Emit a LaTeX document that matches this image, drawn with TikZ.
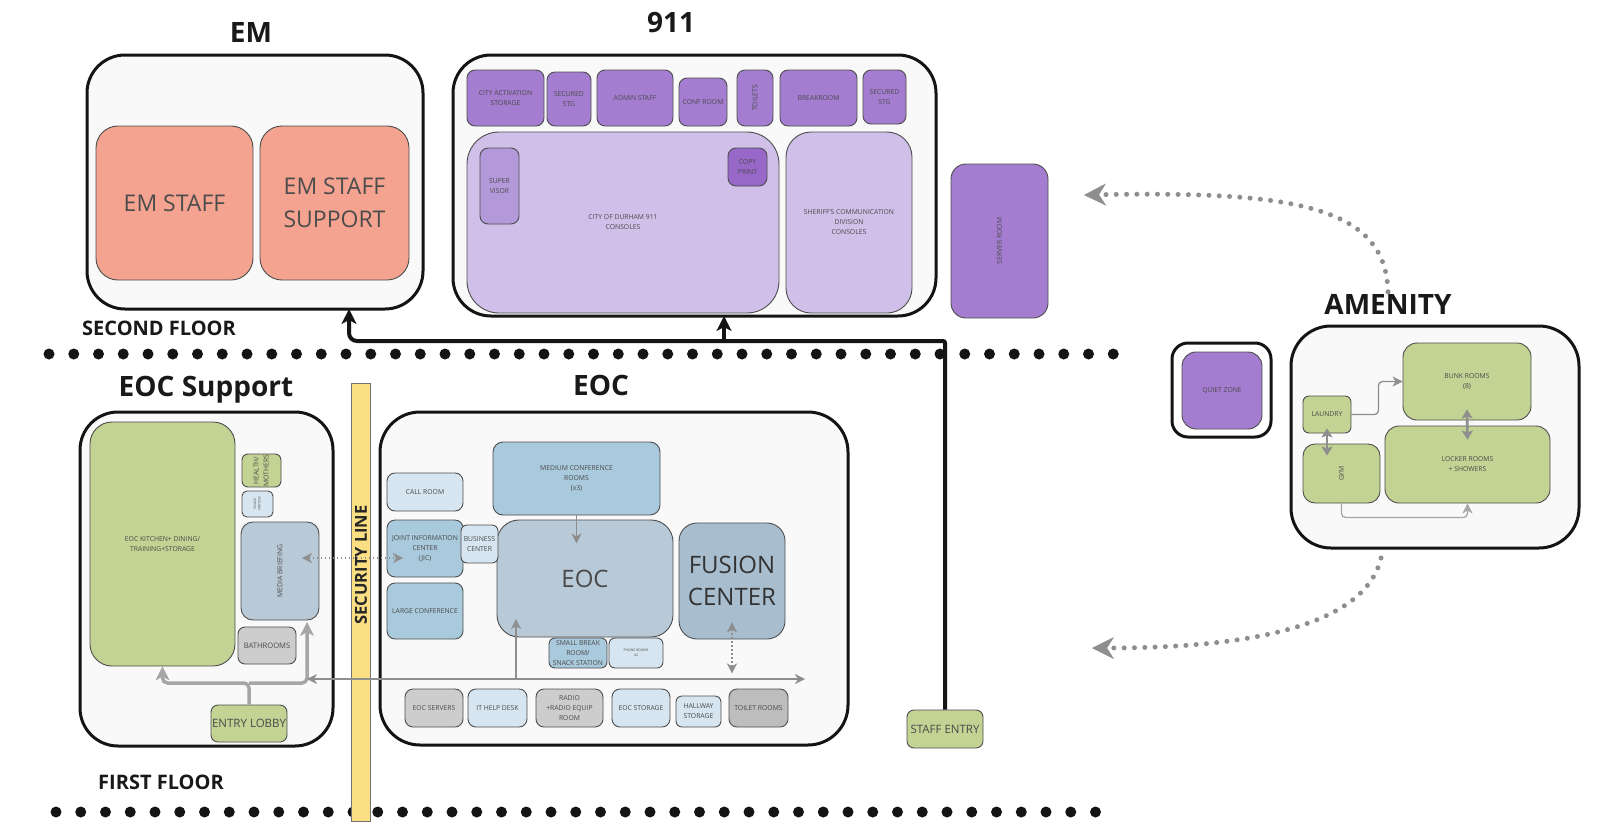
\documentclass[tikz,border=0pt]{standalone}
\usepackage{fontspec}
\usepackage{graphicx}
\setmainfont{Open Sans}
\usetikzlibrary{arrows.meta}

\definecolor{zonebg}{HTML}{F9F9F9}
\definecolor{roomedge}{HTML}{4D4D4D}
\definecolor{txt}{HTML}{4A4A4A}
\definecolor{salmon}{HTML}{F3A390}
\definecolor{purpA}{HTML}{A47DD0}
\definecolor{purpL}{HTML}{D0C0E9}
\definecolor{purpS}{HTML}{B399DA}
\definecolor{purpD}{HTML}{9868C8}
\definecolor{grn}{HTML}{C3D393}
\definecolor{bluM}{HTML}{A9C9DC}
\definecolor{bluL}{HTML}{D6E5EF}
\definecolor{bluG}{HTML}{B8CAD8}
\definecolor{bluF}{HTML}{A8BECF}
\definecolor{gryR}{HTML}{CDCDCD}
\definecolor{gryT}{HTML}{BDBDBD}
\definecolor{yel}{HTML}{FBE083}
\definecolor{arrowgray}{HTML}{8E8E8E}
\definecolor{pathgray}{HTML}{A6A6A6}

% a room given by its corners: name, x1, y1, x2, y2, options, text
\newcommand\room[7]{\node[room,#6,minimum width={#4-#2},minimum height={#5-#3}] (#1) at ({(#2+#4)/2},{(#3+#5)/2}) {#7};}
\newcommand\vtxt[1]{\rotatebox{90}{\begin{tabular}{@{}c@{}}#1\end{tabular}}}

\begin{document}
\begin{tikzpicture}[x=1pt,y=-1pt,
  zone/.style={draw=black!92,line width=3pt,fill=zonebg,rounded corners=38pt},
  room/.style={draw=roomedge,line width=0.9pt,rounded corners=8pt,text=txt,inner sep=0pt,align=center,font=\fontsize{6.8}{10}\selectfont},
  bigtxt/.style={font=\fontsize{23}{33}\selectfont,text=black!70},
  title/.style={font=\fontsize{28}{32}\bfseries\selectfont,text=black!90,inner sep=2pt},
  floorlbl/.style={font=\fontsize{20}{24}\bfseries\selectfont,text=black!90,anchor=west,inner sep=0pt},
  floordots/.style={line width=11pt,draw=black!92,line cap=round,dash pattern=on 0pt off 24.75pt},
  blk/.style={line width=4pt,draw=black!92,-{Stealth[length=15pt,width=15pt,inset=4pt,line width=0.5pt]}},
  gthick/.style={line width=3.5pt,draw=pathgray,rounded corners=5pt,-{Stealth[length=14pt,width=14pt,inset=4pt,line width=0.5pt]}},
  gthin/.style={line width=1.3pt,draw=arrowgray,rounded corners=4pt},
  gtip/.style={-{Stealth[length=10pt,width=10pt,inset=3pt,line width=0.3pt]}},
  gboth/.style={{Stealth[length=10pt,width=10pt,inset=3pt,line width=0.3pt]}-{Stealth[length=10pt,width=10pt,inset=3pt,line width=0.3pt]}},
  gdot/.style={line width=1.4pt,draw=arrowgray,dash pattern=on 1.4pt off 2.6pt},
  bigdot/.style={line width=5pt,draw=arrowgray,line cap=round,dash pattern=on 0pt off 10.3pt,
    -{Stealth[length=22pt,width=22pt,inset=7pt,line width=0.5pt]}}]

\useasboundingbox[fill=white] (0,0) rectangle (1606,825);

% ---------- floor separators ----------
\draw[floordots] (49,354) -- (1116,354);
\draw[floordots] (56,812) -- (1098,812);
\node[floorlbl] (secondfl) at (82,328) {SECOND FLOOR};
\node[floorlbl] (firstfl) at (98,782) {FIRST FLOOR};

% ---------- EM ----------
\node[title] (emT) at (251,33) {EM};
\room{em}{87}{55}{423}{309}{zone}{}
\room{emstaff}{96}{126}{253}{280}{fill=salmon,rounded corners=22pt,bigtxt}{EM STAFF}
\room{emsupport}{260}{126}{409}{280}{fill=salmon,rounded corners=22pt,bigtxt}{EM STAFF\\SUPPORT}

% ---------- 911 ----------
\node[title] (dispT) at (671,23) {911};
\room{disp}{453}{55}{936}{316}{zone}{}
\room{cityact}{467}{70}{544}{126}{fill=purpA}{CITY ACTIVATION\\STORAGE}
\room{secA}{547}{72}{591}{126}{fill=purpA}{SECURED\\STG}
\room{admin}{597}{70}{673}{126}{fill=purpA}{ADMIN STAFF}
\room{conf}{679}{78}{727}{126}{fill=purpA}{CONF ROOM}
\room{toilets}{737}{70}{773}{126}{fill=purpA}{\rotatebox{90}{TOILETS}}
\room{breakroom}{780}{70}{857}{126}{fill=purpA}{BREAKROOM}
\room{secB}{863}{70}{906}{124}{fill=purpA}{SECURED\\STG}
\room{consoles}{467}{132}{779}{313}{fill=purpL,rounded corners=32pt}{CITY OF DURHAM 911\\CONSOLES}
\room{supervisor}{480}{148}{519}{224}{fill=purpS}{SUPER\\VISOR}
\room{copy}{728}{148}{767}{186}{fill=purpD}{COPY\\PRINT}
\room{sheriff}{786}{132}{912}{313}{fill=purpL,rounded corners=25pt}{SHERIFF'S COMMUNICATION\\DIVISION\\CONSOLES}
\room{server}{951}{164}{1048}{318}{fill=purpA,rounded corners=15pt}{\rotatebox{90}{SERVER ROOM}}

% ---------- EOC Support ----------
\node[title] (supT) at (206,390) {EOC Support};
\room{support}{80}{412}{333}{746}{zone}{}
\room{kitchen}{90}{422}{235}{666}{fill=grn,rounded corners=22pt}{EOC KITCHEN+ DINING/\\TRAINING+STORAGE}
\room{health}{242}{454}{281}{487}{fill=grn,rounded corners=6pt}{\vtxt{HEALTH/\\MOTHERS}}
\room{snack}{242}{491}{273}{517}{fill=bluL,rounded corners=5pt,font=\fontsize{3.4}{4.5}\selectfont}{\vtxt{SNACK\\STATION}}
\room{media}{241}{522}{319}{620}{fill=bluG,rounded corners=12pt}{\rotatebox{90}{MEDIA BRIEFING}}
\room{bath}{238}{627}{296}{664}{fill=gryR,rounded corners=7pt,font=\fontsize{7.6}{10}\selectfont}{BATHROOMS}
\room{lobby}{211}{705}{287}{742}{fill=grn,rounded corners=7pt,font=\fontsize{11.5}{14}\selectfont}{ENTRY LOBBY}

% ---------- security line ----------
\node[draw=black!55,line width=0.7pt,fill=yel,minimum width=19,minimum height=438,inner sep=0pt] (secline) at (360.5,602) {};
\node[font=\fontsize{16.5}{20}\bfseries\selectfont,text=black!85,rotate=90] (seclbl) at (361,565) {SECURITY LINE};

% ---------- EOC ----------
\node[title] (eocT) at (601,385) {EOC};
\room{eocz}{380}{412}{848}{745}{zone,rounded corners=40pt}{}
\room{callroom}{387}{473}{463}{511}{fill=bluL}{CALL ROOM}
\room{medconf}{493}{442}{660}{515}{fill=bluM,rounded corners=10pt}{MEDIUM CONFERENCE\\ROOMS\\(x3)}
\room{jic}{387}{520}{463}{577}{fill=bluM}{JOINT INFORMATION\\CENTER\\(JIC)}
\room{largeconf}{387}{583}{463}{639}{fill=bluM}{LARGE CONFERENCE}
\room{eoc}{497}{520}{673}{637}{fill=bluG,rounded corners=22pt,font=\fontsize{24}{30}\selectfont}{EOC}
\room{business}{461}{525}{498}{563}{fill=bluL,rounded corners=6pt}{BUSINESS\\CENTER}
\room{fusion}{679}{523}{785}{639}{fill=bluF,rounded corners=18pt,font=\fontsize{24}{32}\selectfont,text=black!80}{FUSION\\CENTER}
\room{smallbreak}{549}{638}{607}{668}{fill=bluM,rounded corners=6pt}{SMALL BREAK\\ROOM/\\SNACK STATION}
\room{phone}{609}{638}{663}{668}{fill=bluL,rounded corners=6pt,font=\fontsize{3.4}{4.5}\selectfont}{PHONE ROOMS\\X2}
\room{eocserv}{405}{689}{463}{727}{fill=gryR}{EOC SERVERS}
\room{ithelp}{468}{689}{527}{727}{fill=bluL}{IT HELP DESK}
\room{radio}{536}{689}{603}{727}{fill=gryR}{RADIO\\+RADIO EQUIP\\ROOM}
\room{eocstor}{612}{689}{670}{727}{fill=bluL}{EOC STORAGE}
\room{hallstor}{676}{696}{721}{727}{fill=bluL,rounded corners=6pt}{HALLWAY\\STORAGE}
\room{toiletrm}{729}{689}{788}{727}{fill=gryT}{TOILET ROOMS}

% ---------- staff entry ----------
\room{staff}{907}{710}{983}{748}{fill=grn,rounded corners=7pt,font=\fontsize{11.5}{14}\selectfont}{STAFF ENTRY}

% ---------- quiet zone ----------
\room{quietout}{1172}{343}{1271}{437}{draw=black!92,line width=3pt,fill=white,rounded corners=16pt}{}
\room{quiet}{1182}{352}{1262}{429}{fill=purpA,rounded corners=14pt}{QUIET ZONE}

% ---------- amenity ----------
\node[title] (amenT) at (1388,304) {AMENITY};
\room{amen}{1291}{326}{1579}{548}{zone,rounded corners=40pt}{}
\room{bunk}{1403}{343}{1531}{420}{fill=grn,rounded corners=14pt}{BUNK ROOMS\\(8)}
\room{laundry}{1303}{396}{1351}{433}{fill=grn,rounded corners=6pt}{LAUNDRY}
\room{gym}{1303}{444}{1380}{503}{fill=grn,rounded corners=12pt}{\rotatebox{90}{GYM}}
\room{locker}{1385}{426}{1550}{503}{fill=grn,rounded corners=14pt}{LOCKER ROOMS\\+ SHOWERS}

% ---------- staff circulation (black) ----------
\coordinate (bus) at (945,341);
\coordinate (emdrop) at (349,341);
\coordinate (emin) at (349,309);
\coordinate (dispbus) at (724,341);
\coordinate (dispin) at (724,316);
\draw[blk,rounded corners=2pt] (staff.north) -- (bus) [rounded corners=8pt] -- (emdrop) -- (emin);
\draw[blk] (dispbus) -- (dispin);

% ---------- EOC support circulation ----------
\coordinate (split) at (249,683);
\coordinate (medin) at (307,622);
\draw[gthick] (lobby.north) -- (split) -| (kitchen.south);
\draw[gthick] (split) -| (medin);

\coordinate (hallW) at (307,679);
\coordinate (hallE) at (805,679);
\draw[gthin,gboth] (hallW) -- (hallE);
\coordinate (eocup) at (516,679);
\coordinate (eocin) at (516,619);
\draw[gthin,gtip] (eocup) -- (eocin);
\draw[gthin,gtip] (medconf.south) -- ++(0,28);

\coordinate (mediaR) at (302,558);
\coordinate (jicL) at (403,558);
\draw[gdot,gboth] (mediaR) -- (jicL);
\draw[gdot,gboth] ([yshift=17pt]fusion.south) -- ++(0,51);

% ---------- amenity circulation ----------
\draw[gthin,gtip] (laundry.east) -- ++(27,0) |- (bunk.west);
\draw[line width=2.6pt,draw=arrowgray,{Stealth[length=9pt,width=11pt,inset=2pt,line width=0.3pt]}-{Stealth[length=9pt,width=11pt,inset=2pt,line width=0.3pt]}] ([yshift=5pt]laundry.south) -- ++(0,27);
\draw[line width=2.6pt,draw=arrowgray,{Stealth[length=9pt,width=11pt,inset=2pt,line width=0.3pt]}-{Stealth[length=9pt,width=11pt,inset=2pt,line width=0.3pt]}] ([yshift=11pt]bunk.south) -- ([yshift=-14pt]locker.north);
\draw[gthin,draw=pathgray,gtip] (gym.south) -- ++(0,14) -| (locker.south);

% ---------- links to the amenity block ----------
\coordinate (upTip) at (1084,195);
\coordinate (dnStart) at (1381,558);
\coordinate (dnTip) at (1092,648);
\draw[bigdot] (amenT.north) .. controls (1386,205) and (1290,191) .. (upTip);
\draw[bigdot] (dnStart) .. controls (1366,622) and (1262,648) .. (dnTip);

\end{tikzpicture}
\end{document}
